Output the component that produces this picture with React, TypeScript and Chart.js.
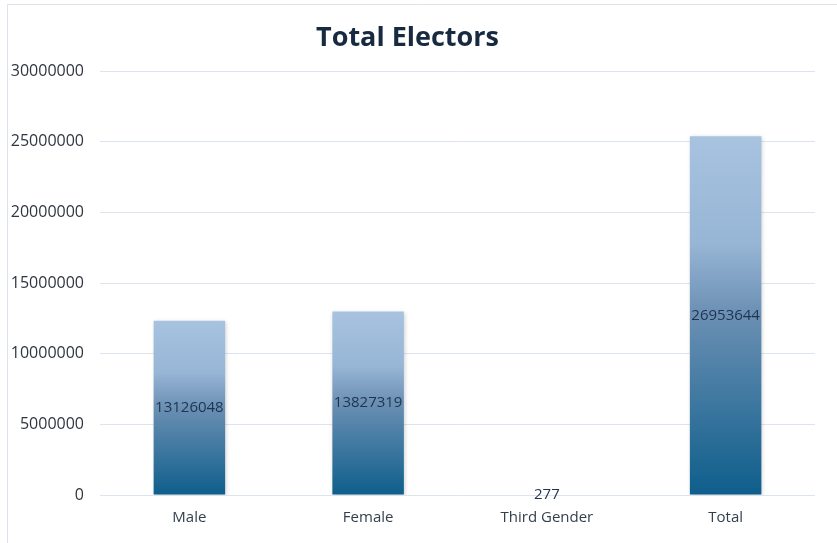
import React, { useEffect, useRef } from "react";
import { Chart, registerables } from "chart.js";

Chart.register(...registerables);

const categories: string[] = ["Male", "Female", "Third Gender", "Total"];
// bar heights as drawn in the picture
const barValues: number[] = [12330000, 12980000, 277, 25390000];
// numbers printed on the bars
const barLabels: string[] = ["13126048", "13827319", "277", "26953644"];
const yTicks: number[] = [0, 5000000, 10000000, 15000000, 20000000, 25000000, 30000000];

const FONT = "'Open Sans', 'DejaVu Sans', sans-serif";

export default function App() {
  const ref = useRef<HTMLCanvasElement | null>(null);

  useEffect(() => {
    document.body.style.margin = "0";
    const canvas = ref.current;
    if (!canvas) return;

    const framePlugin = {
      id: "frame",
      beforeDraw(chart: any) {
        const ctx = chart.ctx;
        ctx.save();
        ctx.fillStyle = "#ffffff";
        ctx.fillRect(0, 0, chart.width, chart.height);
        ctx.strokeStyle = "#dde3ea";
        ctx.lineWidth = 1;
        ctx.beginPath();
        ctx.moveTo(7.5, chart.height);
        ctx.lineTo(7.5, 4.5);
        ctx.lineTo(chart.width, 4.5);
        ctx.stroke();
        ctx.restore();
      },
    };

    const shadowPlugin = {
      id: "barShadow",
      beforeDatasetsDraw(chart: any) {
        const ctx = chart.ctx;
        ctx.save();
        ctx.shadowColor = "rgba(0,0,0,0.18)";
        ctx.shadowBlur = 4;
        ctx.shadowOffsetX = 1;
        ctx.shadowOffsetY = 1;
      },
      afterDatasetsDraw(chart: any) {
        chart.ctx.restore();
      },
    };

    const labelPlugin = {
      id: "barLabels",
      afterDatasetsDraw(chart: any) {
        const ctx = chart.ctx;
        const meta = chart.getDatasetMeta(0);
        ctx.save();
        ctx.font = `15px ${FONT}`;
        ctx.fillStyle = "#1e3450";
        ctx.textAlign = "center";
        ctx.textBaseline = "middle";
        meta.data.forEach((el: any, i: number) => {
          const cy = (el.y + el.base) / 2;
          ctx.fillText(barLabels[i], el.x, cy);
        });
        ctx.restore();
      },
    };

    const chart = new Chart(canvas, {
      type: "bar",
      data: {
        labels: categories,
        datasets: [
          {
            data: barValues,
            barPercentage: 0.4,
            categoryPercentage: 1,
            borderWidth: 0,
            backgroundColor: (c: any) => {
              const ch = c.chart;
              if (!ch.chartArea || c.dataIndex === undefined) return "#5f86ab";
              const ys = ch.scales.y;
              const top = ys.getPixelForValue(barValues[c.dataIndex]);
              const bottom = ys.getPixelForValue(0);
              if (!isFinite(top) || !isFinite(bottom) || bottom - top < 1) return "rgba(220,229,239,0)";
              const g = ch.ctx.createLinearGradient(0, top, 0, bottom);
              g.addColorStop(0, "#a7c3e0");
              g.addColorStop(0.3, "#97b5d5");
              g.addColorStop(0.5, "#6a8fb3");
              g.addColorStop(1, "#0e5e8b");
              return g;
            },
          },
        ],
      },
      options: {
        responsive: false,
        animation: false,
        devicePixelRatio: 1,
        layout: { padding: { left: 0, right: 22, top: 0, bottom: 10 } },
        plugins: {
          legend: { display: false },
          tooltip: { enabled: false },
          title: {
            display: true,
            text: "Total Electors",
            color: "#172a40",
            font: { family: FONT, size: 27, weight: "bold" },
            padding: { top: 22, bottom: 16.6 },
          },
        },
        scales: {
          x: {
            grid: { display: false },
            border: { display: false },
            ticks: {
              color: "#333f4c",
              font: { family: FONT, size: 15 },
              padding: 6,
            },
          },
          y: {
            min: 0,
            max: 30000000,
            afterFit: (s: any) => {
              s.width = 100;
            },
            afterBuildTicks: (s: any) => {
              s.ticks = yTicks.map((v) => ({ value: v }));
            },
            grid: { color: "#dce5ef", lineWidth: 1, drawTicks: false },
            border: { display: false },
            ticks: {
              color: "#2f3640",
              font: { family: FONT, size: 16 },
              padding: 16,
              callback: (v: any) => String(v),
            },
          },
        },
      },
      plugins: [framePlugin, shadowPlugin, labelPlugin],
    } as any);

    return () => chart.destroy();
  }, []);

  return (
    <div style={{ width: 837, height: 543 }}>
      <canvas ref={ref} width={837} height={543} style={{ display: "block" }} />
    </div>
  );
}
